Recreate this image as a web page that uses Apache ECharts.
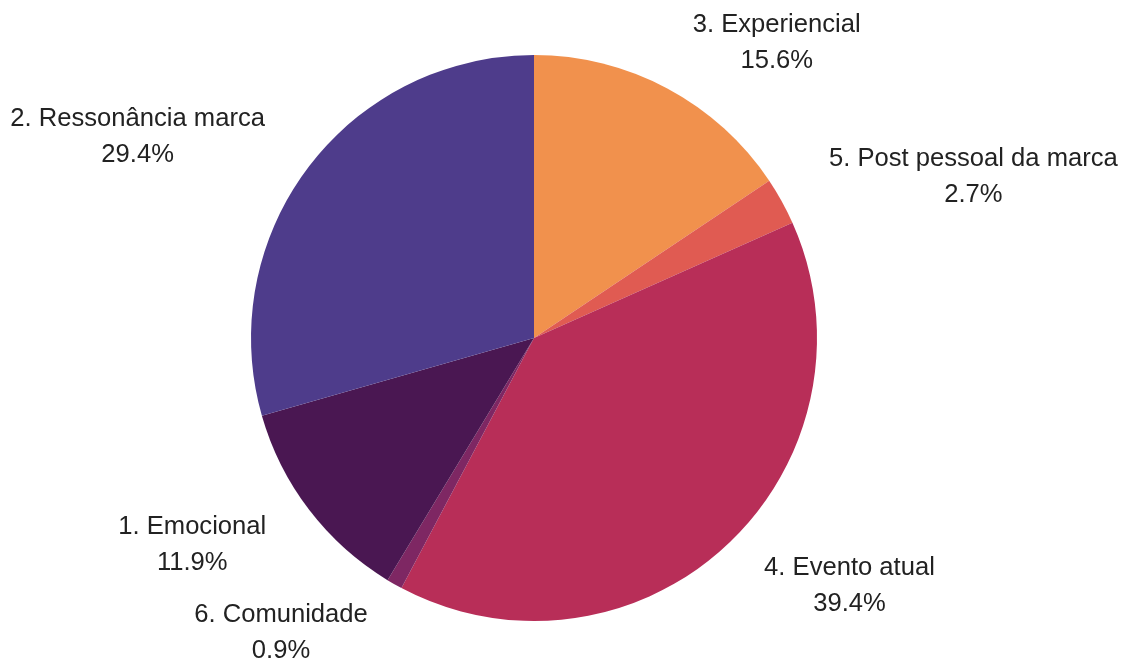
<!DOCTYPE html>
<html>
<head>
<meta charset="utf-8">
<script src="https://cdn.jsdelivr.net/npm/echarts@6/dist/echarts.min.js"></script>
<style>
  html, body { margin: 0; padding: 0; background: #ffffff; }
  #chart { width: 1126px; height: 659px; }
</style>
</head>
<body>
<div id="chart"></div>
<script>
// Share of posts per category (%), clockwise from 12 o'clock
const categories = [
  '3. Experiencial',
  '5. Post pessoal da marca',
  '4. Evento atual',
  '6. Comunidade',
  '1. Emocional',
  '2. Ressonância marca'
];
const shares = [15.6, 2.7, 39.4, 0.9, 11.9, 29.4];
const sliceColors = ['#F1914D', '#E05B52', '#B82E58', '#7E2763', '#4A1752', '#4E3C8B'];

const chart = echarts.init(document.getElementById('chart'), null, { renderer: 'canvas' });

const radius = 283;

chart.setOption({
  backgroundColor: '#ffffff',
  animation: false,
  series: [{
    type: 'pie',
    center: [534, 338],
    radius: radius,
    startAngle: 90,
    clockwise: true,
    avoidLabelOverlap: false,
    data: categories.map((name, i) => ({
      name: name,
      value: shares[i],
      itemStyle: { color: sliceColors[i] }
    })),
    itemStyle: { borderWidth: 0 },
    label: {
      show: true,
      position: 'outside',
      distanceToLabelLine: 0,
      padding: [4, 0, 0, 0],
      formatter: p => '{t|' + p.name + '}\n{t|' + p.value.toFixed(1) + '%}',
      rich: {
        t: {
          fontFamily: '"Liberation Sans", Arial, sans-serif',
          fontSize: 25.6,
          lineHeight: 36,
          color: '#222222',
          align: 'center'
        }
      }
    },
    labelLine: {
      show: false,
      length: 54,
      length2: 0
    },
    emphasis: { disabled: true }
  }]
});
</script>
</body>
</html>
